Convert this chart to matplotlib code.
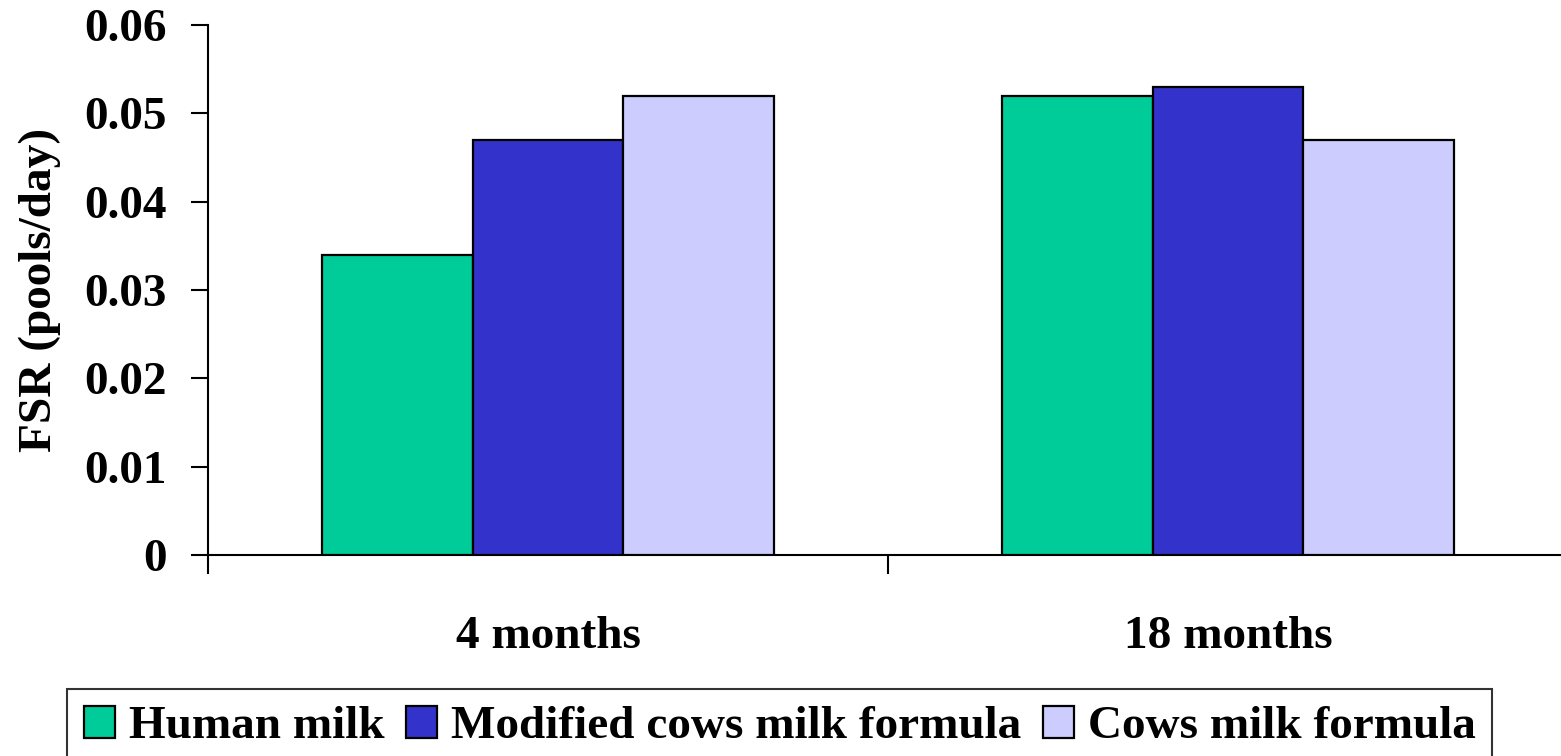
import matplotlib.pyplot as plt
import numpy as np

plt.rcParams["font.family"] = ["Liberation Serif", "DejaVu Serif"]
plt.rcParams["font.weight"] = "bold"

AGES = ["4 months", "18 months"]
SERIES = ["Human milk", "Modified cows milk formula", "Cows milk formula"]
COLORS = ["#00CC99", "#3333CC", "#CCCCFF"]
human_milk = [0.034, 0.052]
modified_formula = [0.047, 0.053]
cows_formula = [0.052, 0.047]
Y_TICKS = [0, 0.01, 0.02, 0.03, 0.04, 0.05, 0.06]

FONT = 34
BAR_W = 0.222

fig = plt.figure(figsize=(15.61, 7.56), dpi=100)
ax = fig.add_axes([208 / 1561, 1 - 555 / 756, 1360 / 1561, 530 / 756])

x = np.arange(len(AGES))
for i, (vals, name, col) in enumerate(
    zip([human_milk, modified_formula, cows_formula], SERIES, COLORS)
):
    ax.bar(x + (i - 1) * BAR_W, vals, BAR_W, color=col, edgecolor="black",
           linewidth=1.6, label=name, zorder=3)

ax.set_xlim(-0.5, 1.5)
ax.set_ylim(0, 0.06)
ax.set_yticks(Y_TICKS)
ax.set_yticklabels(["0" if v == 0 else f"{v:.2f}" for v in Y_TICKS])

# category boundaries get tick marks, category centres get the labels
ax.set_xticks([-0.5, 0.5])
ax.set_xticklabels([])
ax.set_xticks(x, minor=True)
ax.set_xticklabels(AGES, minor=True)
ax.tick_params(axis="x", which="major", length=14, width=1.5, direction="out")
ax.tick_params(axis="x", which="minor", length=0, pad=44, labelsize=FONT)
ax.tick_params(axis="y", length=12, width=1.5, direction="out", pad=18,
               labelsize=FONT)

for side in ["top", "right"]:
    ax.spines[side].set_visible(False)
for side in ["left", "bottom"]:
    ax.spines[side].set_linewidth(1.5)

ax.set_ylabel("FSR (pools/day)", fontsize=FONT, fontweight="bold")
ax.yaxis.set_label_coords(-0.108, 0.5)

leg = fig.legend(
    loc="upper left",
    bbox_to_anchor=(67 / 1561, 1 - 689 / 756),
    ncol=3,
    fontsize=FONT,
    frameon=True,
    fancybox=False,
    edgecolor="black",
    handlelength=0.66,
    handleheight=0.68,
    handletextpad=0.3,
    columnspacing=0.45,
    borderpad=0.35,
    borderaxespad=0,
)
leg.get_frame().set_linewidth(1.5)

fig.savefig("out.png", dpi=100)
